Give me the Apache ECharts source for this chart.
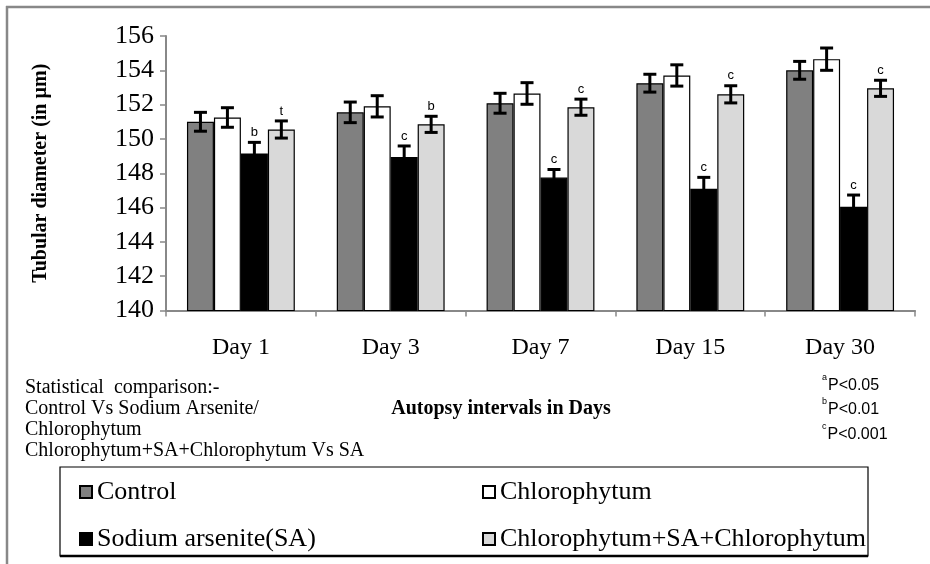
<!DOCTYPE html>
<html>
<head>
<meta charset="utf-8">
<script src="https://cdn.jsdelivr.net/npm/echarts@6/dist/echarts.min.js"></script>
<style>
html,body{margin:0;padding:0;background:#fff;}
#chart{width:930px;height:564px;}
</style>
</head>
<body>
<div id="chart"></div>
<script>
// ---- data ----
var categories = ['Day 1', 'Day 3', 'Day 7', 'Day 15', 'Day 30'];
var seriesNames = ['Control', 'Chlorophytum', 'Sodium arsenite(SA)', 'Chlorophytum+SA+Chlorophytum'];
var control = [151.0, 151.55, 152.08, 153.25, 154.0];
var chloro  = [151.25, 151.9, 152.65, 153.7, 154.65];
var sa      = [149.15, 148.95, 147.75, 147.1, 146.05];
var combo   = [150.55, 150.85, 151.85, 152.6, 152.95];
var controlErr = [0.55, 0.6, 0.58, 0.52, 0.52];
var chloroErr  = [0.57, 0.62, 0.63, 0.62, 0.65];
var saErr      = [0.65, 0.64, 0.47, 0.66, 0.68];
var comboErr   = [0.5, 0.47, 0.47, 0.5, 0.47];
var saSig    = ['b', 'c', 'c', 'c', 'c'];
var comboSig = ['t', 'b', 'c', 'c', 'c'];
var yMin = 140, yMax = 156, yStep = 2;

var colors = ['#808080', '#ffffff', '#000000', '#d9d9d9'];
var values = [control, chloro, sa, combo];
var errs = [controlErr, chloroErr, saErr, comboErr];
var sigs = [null, null, saSig, comboSig];
var BAR_RATIO = 0.18;
var serif = 'Liberation Serif';

var series = [];
values.forEach(function (vals, k) {
  series.push({
    name: seriesNames[k], type: 'bar', data: vals,
    barWidth: (BAR_RATIO * 100) + '%', barGap: '0%',
    itemStyle: { color: colors[k], borderColor: '#000', borderWidth: 1.2 },
    z: 2
  });
});
values.forEach(function (vals, k) {
  var data = vals.map(function (v, i) {
    return [i, v, errs[k][i], sigs[k] ? sigs[k][i] : ''];
  });
  series.push({
    type: 'custom', name: 'err' + k, data: data, z: 5, silent: true,
    renderItem: function (params, api) {
      var i = api.value(0), v = api.value(1), e = api.value(2);
      var sig = data[params.dataIndex][3];
      var c = api.coord([i, v]);
      var catW = api.size([1, 0])[0];
      var bw = catW * BAR_RATIO;
      var x = c[0] + (k - 1.5) * bw;
      var yT = api.coord([i, v + e])[1];
      var yB = api.coord([i, v - e])[1];
      var hw = 6.5;
      var st = { stroke: '#000', lineWidth: 3 };
      var children = [
        { type: 'line', shape: { x1: x, y1: yT, x2: x, y2: yB }, style: st },
        { type: 'line', shape: { x1: x - hw, y1: yT, x2: x + hw, y2: yT }, style: st },
        { type: 'line', shape: { x1: x - hw, y1: yB, x2: x + hw, y2: yB }, style: st }
      ];
      if (sig) {
        children.push({ type: 'text', x: x, y: yT - 10,
          style: { text: sig, fill: '#000', font: '13px "Liberation Sans", Arial, sans-serif',
            align: 'center', verticalAlign: 'middle' } });
      }
      return { type: 'group', children: children };
    }
  });
});

var legendText = { color: '#000', fontFamily: serif, fontSize: 26 };
var chart = echarts.init(document.getElementById('chart'));
chart.setOption({
  animation: false,
  backgroundColor: '#fff',
  textStyle: { fontFamily: serif },
  grid: { left: 166, right: 15, top: 36, bottom: 253.5 },
  xAxis: {
    type: 'category', data: categories,
    axisLine: { lineStyle: { color: '#888', width: 2 } },
    axisTick: { show: true, length: 6, lineStyle: { color: '#888', width: 1.5 } },
    axisLabel: { color: '#000', fontFamily: serif, fontSize: 24, margin: 25 }
  },
  yAxis: {
    type: 'value', min: yMin, max: yMax, interval: yStep,
    name: 'Tubular diameter (in µm)', nameLocation: 'middle', nameGap: 115,
    nameTextStyle: { color: '#000', fontFamily: serif, fontSize: 20, fontWeight: 'bold' },
    axisLine: { show: true, lineStyle: { color: '#888', width: 2 } },
    axisTick: { show: true, length: 6, lineStyle: { color: '#888', width: 1.5 } },
    splitLine: { show: false },
    axisLabel: { color: '#000', fontFamily: serif, fontSize: 26, margin: 12 }
  },
  legend: [
    { data: [seriesNames[0], seriesNames[2]], orient: 'vertical', left: 74, top: 474,
      itemWidth: 12, itemHeight: 12, itemGap: 21, icon: 'rect',
      textStyle: legendText },
    { data: [seriesNames[1], seriesNames[3]], orient: 'vertical', left: 477, top: 474,
      itemWidth: 12, itemHeight: 12, itemGap: 21, icon: 'rect',
      textStyle: legendText }
  ],
  graphic: [
    { type: 'line', shape: { x1: 6, y1: 7, x2: 930, y2: 7 }, style: { stroke: '#888', lineWidth: 2.5 }, silent: true },
    { type: 'line', shape: { x1: 7, y1: 6, x2: 7, y2: 564 }, style: { stroke: '#888', lineWidth: 2.5 }, silent: true },
    { type: 'rect', shape: { x: 60, y: 467, width: 808, height: 89 }, style: { fill: 'none', stroke: '#000', lineWidth: 1.2 }, silent: true, z: -1 },
    { type: 'line', shape: { x1: 60, y1: 556, x2: 868, y2: 556 }, style: { stroke: '#000', lineWidth: 2.5 }, silent: true },
    { type: 'text', left: 25, top: 377, silent: true,
      style: { text: 'Statistical  comparison:-\nControl Vs Sodium Arsenite/\nChlorophytum\nChlorophytum+SA+Chlorophytum Vs SA',
        fill: '#000', font: '20px "Liberation Serif"', lineHeight: 21 } },
    { type: 'text', x: 501, y: 409, silent: true,
      style: { text: 'Autopsy intervals in Days', fill: '#000', font: 'bold 20px "Liberation Serif"',
        align: 'center', verticalAlign: 'middle' } },
    { type: 'text', left: 822, top: 373, silent: true,
      style: { text: '{s|a}P<0.05\n{s|b}P<0.01\n{s|c}P<0.001', fill: '#000',
        font: '16px "Liberation Sans", Arial, sans-serif', lineHeight: 24.5,
        rich: { s: { fontSize: 9, verticalAlign: 'top', lineHeight: 24.5, padding: [0, 1, 3, 0],
          fontFamily: 'Liberation Sans' } } } }
  ],
  series: series
});
</script>
</body>
</html>
